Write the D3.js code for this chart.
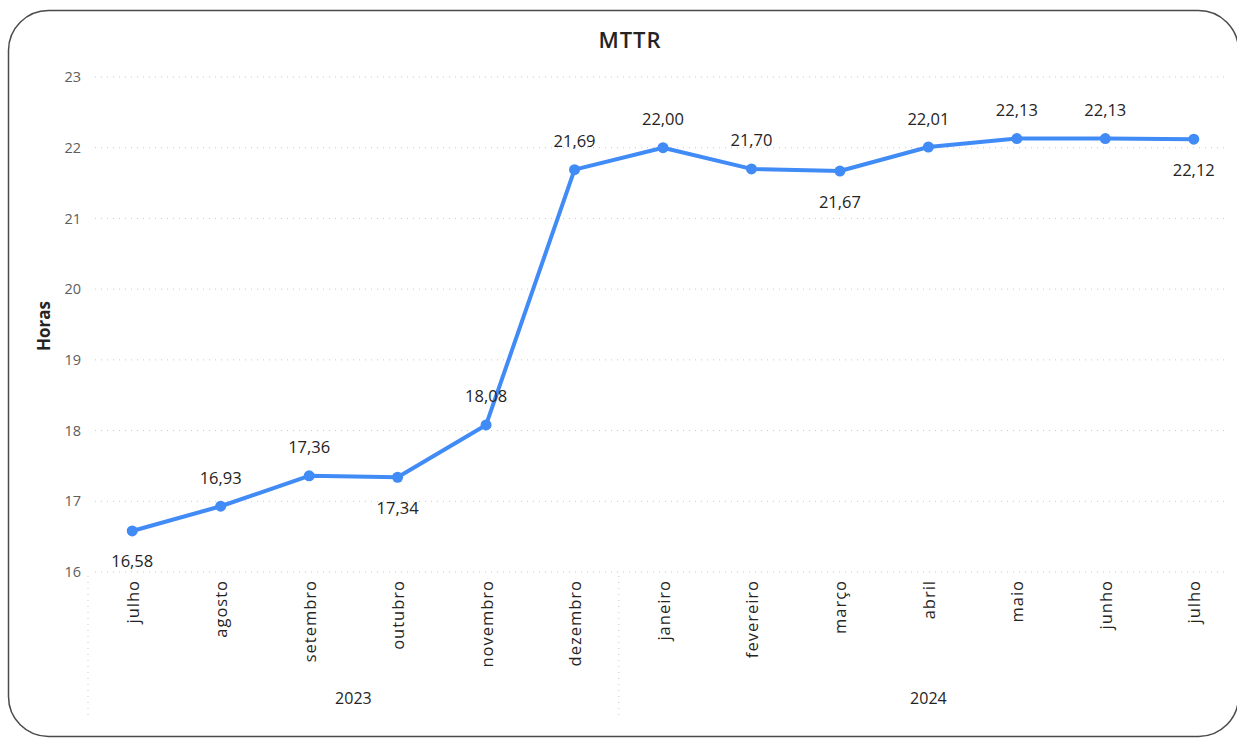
<!DOCTYPE html>
<html>
<head>
<meta charset="utf-8">
<script src="https://cdn.jsdelivr.net/npm/d3@7"></script>
<style>
  html, body { margin: 0; padding: 0; background: #fff; }
  svg { display: block; font-family: "Segoe UI", "Open Sans", "Noto Sans", sans-serif; }
</style>
</head>
<body>
<svg id="chart" width="1237" height="738"></svg>
<script>
// MTTR per month, July 2023 – July 2024
const months = ["julho", "agosto", "setembro", "outubro", "novembro", "dezembro",
                "janeiro", "fevereiro", "março", "abril", "maio", "junho", "julho"];
const years = ["2023", "2023", "2023", "2023", "2023", "2023",
               "2024", "2024", "2024", "2024", "2024", "2024", "2024"];
const mttr = [16.58, 16.93, 17.36, 17.34, 18.08, 21.69, 22.00, 21.70, 21.67, 22.01, 22.13, 22.13, 22.12];
const yTicks = [16, 17, 18, 19, 20, 21, 22, 23];

const svg = d3.select("#chart");
const blue = "#418BF7";
const textDark = "#252423";
const textGrey = "#605E5C";
const fontStack = "Segoe UI, Open Sans, Noto Sans, sans-serif";

// card frame
svg.append("rect")
  .attr("x", 8.5).attr("y", 10.5)
  .attr("width", 1230).attr("height", 726)
  .attr("rx", 40).attr("ry", 40)
  .attr("fill", "#fff").attr("stroke", "#4a4a4a").attr("stroke-width", 1.5);

const keys = months.map((m, i) => i);
const x = d3.scaleBand().domain(keys).range([88, 1238]);
const y = d3.scaleLinear().domain([16, 23]).range([572, 77]);
const cx = i => x(i) + x.bandwidth() / 2;

// title
svg.append("text")
  .attr("x", 630).attr("y", 48)
  .attr("text-anchor", "middle")
  .attr("font-size", 22).attr("font-weight", 600)
  .attr("letter-spacing", 1)
  .attr("fill", textDark)
  .text("MTTR");

// y axis title
svg.append("text")
  .attr("transform", "translate(50,326) rotate(-90)")
  .attr("text-anchor", "middle")
  .attr("font-size", 17).attr("font-weight", 700)
  .attr("fill", textDark)
  .text("Horas");

// y axis with dotted gridlines
const yAxis = d3.axisLeft(y).tickValues(yTicks).tickSize(0).tickPadding(0).tickFormat(d3.format("d"));
const gy = svg.append("g").attr("transform", "translate(81,0)").call(yAxis);
gy.select(".domain").remove();
gy.selectAll("text")
  .attr("font-size", 14.5).attr("fill", textGrey)
  .attr("font-family", fontStack);

svg.append("g").selectAll("line")
  .data(yTicks).join("line")
  .attr("x1", 95).attr("x2", 1226)
  .attr("y1", d => y(d)).attr("y2", d => y(d))
  .attr("stroke", "#c8c8c8").attr("stroke-width", 1)
  .attr("stroke-dasharray", "1,5");

// month labels (rotated)
const xAxis = d3.axisBottom(x).tickSize(0).tickPadding(0).tickFormat(i => months[i]);
const gx = svg.append("g").attr("transform", "translate(0,576)").call(xAxis);
gx.select(".domain").remove();
gx.selectAll("text")
  .attr("font-size", 16.5).attr("fill", textDark)
  .attr("font-family", fontStack)
  .attr("letter-spacing", 1)
  .attr("text-anchor", "end")
  .attr("dy", null)
  .attr("transform", "translate(0,4) rotate(-90)")
  .attr("x", 0).attr("y", 0)
  .attr("dominant-baseline", "central");

// year groups with dotted separators
const yearGroups = d3.groups(keys, i => years[i]);
yearGroups.forEach(([yr, idx]) => {
  const x0 = x(idx[0]);
  const x1 = x(idx[idx.length - 1]) + x.bandwidth();
  svg.append("line")
    .attr("x1", x0).attr("x2", x0)
    .attr("y1", 576).attr("y2", 716)
    .attr("stroke", "#c8c8c8").attr("stroke-width", 1)
    .attr("stroke-dasharray", "1,5");
  svg.append("text")
    .attr("x", (x0 + x1) / 2).attr("y", 704)
    .attr("text-anchor", "middle")
    .attr("font-size", 16).attr("fill", textDark)
    .text(yr);
});

// line and markers
const line = d3.line().x((d, i) => cx(i)).y(d => y(d));
svg.append("path")
  .datum(mttr)
  .attr("d", line)
  .attr("fill", "none")
  .attr("stroke", blue).attr("stroke-width", 4)
  .attr("stroke-linejoin", "round");

svg.append("g").selectAll("circle")
  .data(mttr).join("circle")
  .attr("cx", (d, i) => cx(i)).attr("cy", d => y(d))
  .attr("r", 5.5).attr("fill", blue);

// data labels: placed below the point where the line dips or ends
const below = new Set([0, 3, 8, 12]);
const fmt = v => d3.format(".2f")(v).replace(".", ",");
svg.append("g").selectAll("text")
  .data(mttr).join("text")
  .attr("x", (d, i) => cx(i))
  .attr("y", (d, i) => y(d) + (below.has(i) ? 30 : -29))
  .attr("text-anchor", "middle")
  .attr("dominant-baseline", "central")
  .attr("font-size", 16.5).attr("fill", textDark)
  .text(d => fmt(d));
</script>
</body>
</html>
